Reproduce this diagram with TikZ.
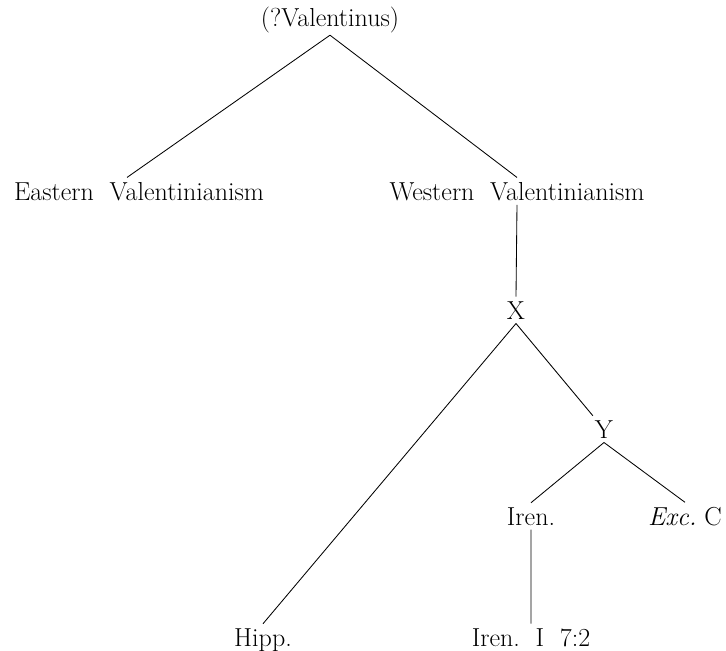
\documentclass[tikz,border=0pt]{standalone}
\usepackage{tikz}
\begin{document}
\begin{tikzpicture}[x=0.025cm,y=-0.025cm,font=\fontsize{18.5}{22}\selectfont,
  lbl/.style={anchor=base,inner sep=3pt},
  edge/.style={line width=0.6pt}]
\useasboundingbox (0,0) rectangle (726,651);
\node[lbl,inner sep=1pt] (val) at (330,27) {(?Valentinus)};
\node[lbl] (east) at (139,200) {Eastern\ \ Valentinianism};
\node[lbl] (west) at (517,200) {Western\ \ Valentinianism};
\node[lbl] (x) at (516,319) {X};
\node[lbl] (y) at (604,438) {Y};
\node[lbl] (iren) at (531,525) {Iren.};
\node[lbl] (exc) at (685,525) {\textit{Exc.}\ C};
\node[lbl] (hipp) at (263,646) {Hipp.};
\node[lbl] (ireni) at (531,646) {Iren.\ \ I\ \ 7:2};
\draw[edge] (val.south)--([xshift=-0.3cm]east.north) (val.south)--(west.north) (west.south)--(x.north);
\draw[edge] (x.south)--(hipp.north) (x.south)--(y) (y.south)--(iren.north) (y.south)--(exc.north) (iren.south)--(ireni.north);
\end{tikzpicture}
\end{document}
